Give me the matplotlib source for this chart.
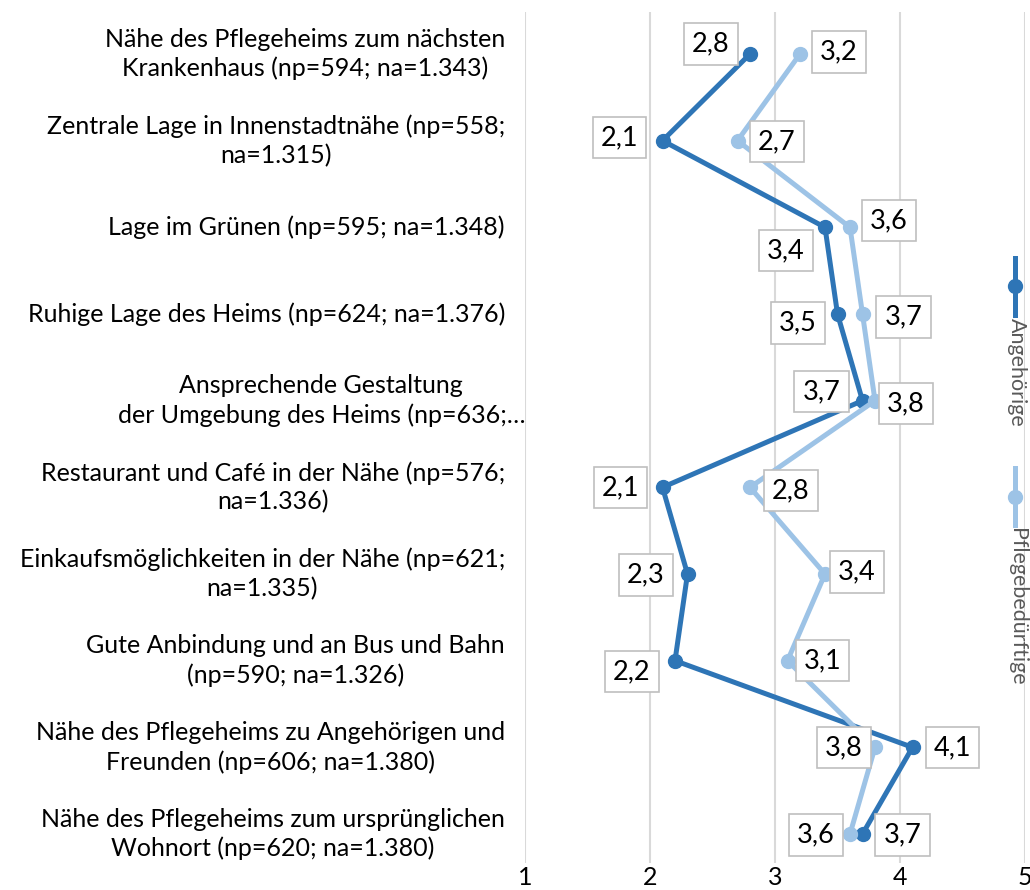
import matplotlib
matplotlib.use("Agg")
import matplotlib.pyplot as plt
from matplotlib.lines import Line2D
import numpy as np

# Daten
kategorien = [
    "Nähe des Pflegeheims zum nächsten\nKrankenhaus (np=594; na=1.343)",
    "Zentrale Lage in Innenstadtnähe (np=558;\nna=1.315)",
    "Lage im Grünen (np=595; na=1.348)",
    "Ruhige Lage des Heims (np=624; na=1.376)",
    "Ansprechende Gestaltung\nder Umgebung des Heims (np=636;…",
    "Restaurant und Café in der Nähe (np=576;\nna=1.336)",
    "Einkaufsmöglichkeiten in der Nähe (np=621;\nna=1.335)",
    "Gute Anbindung und an Bus und Bahn\n(np=590; na=1.326)",
    "Nähe des Pflegeheims zu Angehörigen und\nFreunden (np=606; na=1.380)",
    "Nähe des Pflegeheims zum ursprünglichen\nWohnort (np=620; na=1.380)",
]
angehoerige = [2.8, 2.1, 3.4, 3.5, 3.7, 2.1, 2.3, 2.2, 4.1, 3.7]
pflegebeduerftige = [3.2, 2.7, 3.6, 3.7, 3.8, 2.8, 3.4, 3.1, 3.8, 3.6]
serien = ["Angehörige", "Pflegebedürftige"]
x_ticks = [1, 2, 3, 4, 5]

# Stil
c_dunkel = "#2E75B6"
c_hell = "#9DC3E6"
fs = 18
plt.rcParams["font.family"] = ["Lato", "DejaVu Sans"]

# Position der Datenbeschriftungen (Pixel-Versatz)
off_dunkel = [(-39, 10), (-43, 3), (-39, -23), (-40, -9), (-41, 9),
              (-42, 0), (-42, -1), (-43, -11), (40, 0), (40, -1)]
off_hell = [(39, 2), (39, -1), (39, 7), (41, -3), (31, -3),
            (41, -3), (32, 2), (35, 0), (-31, 0), (-34, -1)]

fig = plt.figure(figsize=(10.3, 8.9), dpi=100)
ax = fig.add_axes([525 / 1030, 1 - 863 / 890, 500 / 1030, 851 / 890])

y = np.arange(len(kategorien))

ax.plot(angehoerige, y, color=c_dunkel, lw=3.6, marker="o", ms=10, zorder=3,
        solid_joinstyle="round")
ax.plot(pflegebeduerftige, y, color=c_hell, lw=3.6, marker="o", ms=10, zorder=4,
        solid_joinstyle="round")

box = dict(boxstyle="square,pad=0.3", fc="white", ec="#BFBFBF", lw=1.2)
for i in range(len(y)):
    for werte, offs in ((angehoerige, off_dunkel), (pflegebeduerftige, off_hell)):
        ax.annotate(f"{werte[i]:.1f}".replace(".", ","), (werte[i], y[i]),
                    xytext=offs[i], textcoords="offset pixels",
                    ha="center", va="center", fontsize=19.5, color="black",
                    bbox=box, zorder=5)

# Kategorien-Beschriftung
for i, k in enumerate(kategorien):
    pad = 0 if k.endswith("…") else -20
    ax.annotate(k, (1, y[i]), xytext=(pad, 0), textcoords="offset pixels",
                ha="right", va="center", multialignment="center",
                linespacing=1.3, fontsize=fs, color="black",
                annotation_clip=False)

ax.set_xlim(1, 5)
ax.set_ylim(9 + 29 / 86.67, -42 / 86.67)
ax.set_xticks(x_ticks)
ax.set_xticklabels([str(t) for t in x_ticks], fontsize=fs)
ax.set_yticks([])
ax.tick_params(axis="x", length=0, pad=2)
ax.grid(axis="x", color="#D9D9D9", lw=1.5)
ax.set_axisbelow(True)
for s in ax.spines.values():
    s.set_visible(False)

# Legende (vertikal, rechts)
for farbe, name, y0 in ((c_dunkel, serien[0], 258), (c_hell, serien[1], 468)):
    yy = [1 - y0 / 890, 1 - (y0 + 57) / 890]
    fig.add_artist(Line2D([1015 / 1030] * 2, yy, color=farbe, lw=3.6))
    fig.add_artist(Line2D([1015 / 1030], [(yy[0] + yy[1]) / 2], color=farbe,
                          marker="o", ms=10))
    fig.text(1017 / 1030, 1 - (y0 + 60) / 890, name, rotation=-90,
             ha="center", va="top", fontsize=15.5, color="#595959")

fig.savefig("out.png", dpi=100)
